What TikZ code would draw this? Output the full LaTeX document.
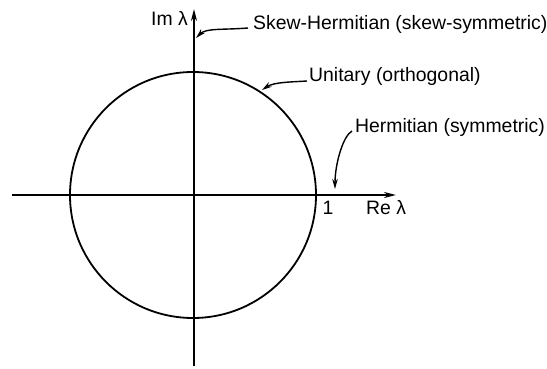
\documentclass[tikz,border=0pt]{standalone}
\usepackage{fontspec}
\setmainfont{Liberation Sans}
\usetikzlibrary{arrows.meta}
\begin{document}
\begin{tikzpicture}[x=1pt,y=-1pt,
  axis/.style={line width=1.8pt,-{Stealth[length=12pt,width=6pt]}},
  curve/.style={line width=1.8pt},
  pointer/.style={line width=1.4pt,-{Stealth[length=10pt,width=5.5pt]}},
  lab/.style={inner sep=0pt,font=\fontsize{19.4}{22}\selectfont}]
\useasboundingbox (0,0) rectangle (547,369);
\coordinate (O) at (193,195);
\coordinate (L) at (12,195);
\coordinate (R) at (396,195);
\coordinate (T) at (194,9);
\coordinate (B) at (194,366);
\draw[axis] (L) -- (R);
\draw[axis] (B) -- (T);
\draw[curve] (O) circle (123);
\node[lab,anchor=east] (im) at (188,18) {Im λ};
\node[lab,anchor=west] (skew) at (253,24) {Skew-Hermitian (skew-symmetric)};
\node[lab,anchor=west] (unit) at (309,76) {Unitary (orthogonal)};
\node[lab,anchor=west] (herm) at (355,127) {Hermitian (symmetric)};
\node[lab] (one) at (328,208) {1};
\node[lab,anchor=west] (re) at (366,208) {Re λ};
\coordinate (skewtip) at (196,38);
\coordinate (unittip) at (262,90);
\coordinate (hermtip) at (335,189);
\draw[pointer] ([xshift=-5pt,yshift=-4pt]skew.west) .. controls +(-25,2) and +(10,-10) .. (skewtip);
\draw[pointer] ([xshift=-2pt,yshift=-5pt]unit.west) .. controls +(-15,1) and +(12,-8) .. (unittip);
\draw[pointer] ([xshift=-3pt,yshift=-4pt]herm.west) .. controls +(-9,5) and +(0,-25) .. (hermtip);
\end{tikzpicture}
\end{document}
